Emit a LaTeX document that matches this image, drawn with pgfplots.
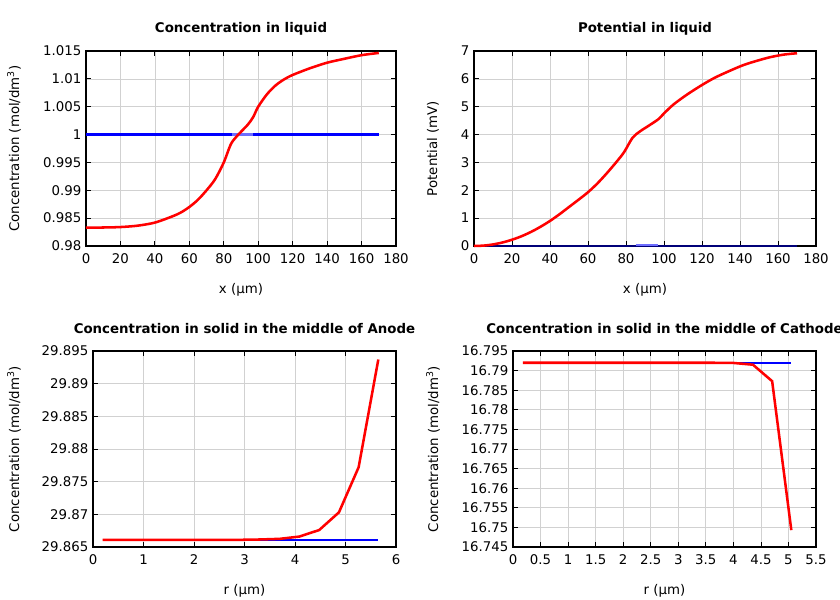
\documentclass[border=0pt]{standalone}
\usepackage{pgfplots}
\pgfplotsset{compat=1.18}
\usepackage{fontspec}
\setmainfont{DejaVu Sans}
\definecolor{navy}{RGB}{0,0,120}
\definecolor{sepblue}{RGB}{110,110,255}
\pgfplotsset{
  myax/.style={
    scale only axis,
    axis line style={line width=0.9pt},
    grid=major,
    grid style={color=black!18, line width=0.5pt},
    tick align=inside,
    major tick length=4pt,
    tick style={black, line width=0.6pt},
    /pgf/number format/assume math mode=true,
    ticklabel style={font=\fontsize{10}{12}\selectfont},
    xticklabel style={yshift=-2pt},
    label style={font=\fontsize{10}{12}\selectfont},
    every axis title shift=0pt,
    title style={font=\bfseries\fontsize{10}{12}\selectfont, at={(rel axis cs:0.5,1)}, anchor=center, yshift=16.5pt},
    every axis x label/.style={at={(rel axis cs:0.5,0)}, anchor=center, yshift=-33pt},
  },
  red line/.style={color=red, line width=1.9pt},
  blue line/.style={color=blue, line width=1.7pt},
}
\begin{document}
\begin{tikzpicture}
% ---------- Concentration in liquid ----------
\begin{axis}[myax,
  at={(64.5pt,265.5pt)}, anchor=south west,
  width=232.5pt, height=146.25pt,
  xmin=0, xmax=180, ymin=0.98, ymax=1.015,
  xtick={0,20,...,180},
  ytick={0.98,0.985,0.99,0.995,1,1.005,1.01,1.015},
  yticklabels={0.98,0.985,0.99,0.995,1,1.005,1.01,1.015},
  title={Concentration in liquid},
  xlabel={x (µm)},
  ylabel={Concentration (mol/dm\textsuperscript{3})},
  every axis y label/.style={at={(rel axis cs:0,0.5)}, rotate=90, anchor=center, yshift=54pt},
]
\addplot[blue line] coordinates {(0,1.0) (170,1.0)};
\addplot[color=sepblue, line width=1.7pt] coordinates {(85,1.0) (97,1.0)};
\addplot[red line, smooth] coordinates {
(0,0.98330) (10,0.98332) (20,0.98340) (30,0.98365) (40,0.98420) (50,0.98530)
(55,0.98600) (60,0.98700) (65,0.98830) (70,0.99000) (75,0.99200) (80,0.99500)
(84,0.99820) (87,0.99950) (90,1.00050) (94,1.00180) (97,1.00310) (100,1.00500)
(105,1.00720) (110,1.00880) (115,1.00990) (120,1.01070) (130,1.01190)
(140,1.01290) (150,1.01360) (160,1.01425) (170,1.01465)};
\end{axis}
% ---------- Potential in liquid ----------
\begin{axis}[myax,
  at={(355.5pt,265.5pt)}, anchor=south west,
  width=256.5pt, height=146.25pt,
  xmin=0, xmax=180, ymin=0, ymax=7,
  xtick={0,20,...,180},
  ytick={0,1,...,7},
  clip=false,
  title={Potential in liquid},
  xlabel={x (µm)},
  ylabel={Potential (mV)},
  every axis y label/.style={at={(rel axis cs:0,0.5)}, rotate=90, anchor=center, yshift=30.75pt},
]
\addplot[color=navy, line width=2.2pt] coordinates {(0,0) (170,0)};
\addplot[color=sepblue, line width=1pt] coordinates {(85,0.03) (97,0.03)};
\addplot[red line, smooth] coordinates {
(0,0.0) (5,0.014) (10,0.056) (15,0.126) (20,0.225) (25,0.35) (30,0.505) (35,0.69)
(40,0.90) (45,1.14) (50,1.40) (55,1.66) (60,1.93) (65,2.25) (70,2.62) (75,3.02)
(79,3.37) (83.5,3.89) (87.5,4.12) (92,4.32) (97,4.55)
(100,4.76) (105,5.08) (112,5.43) (120,5.78) (127,6.05) (135,6.30) (142,6.50)
(149,6.65) (156,6.78) (163,6.87) (170,6.92)};
\end{axis}
% ---------- Anode ----------
\begin{axis}[myax,
  at={(69.75pt,39.75pt)}, anchor=south west,
  width=227.25pt, height=147pt,
  xmin=0, xmax=6, ymin=29.865, ymax=29.895,
  xtick={0,1,...,6},
  ytick={29.865,29.87,29.875,29.88,29.885,29.89,29.895},
  yticklabels={29.865,29.87,29.875,29.88,29.885,29.89,29.895},
  title={Concentration in solid in the middle of Anode},
  xlabel={r (µm)},
  ylabel={Concentration (mol/dm\textsuperscript{3})},
  every axis y label/.style={at={(rel axis cs:0,0.5)}, rotate=90, anchor=center, yshift=59.25pt},
]
\addplot[blue line] coordinates {(0.19,29.8661) (5.65,29.8661)};
\addplot[red line] coordinates {
(0.19,29.8661) (0.58,29.8661) (0.97,29.8661) (1.36,29.8661) (1.75,29.8661)
(2.14,29.8661) (2.53,29.8661) (2.92,29.8661) (3.31,29.86615) (3.70,29.86625)
(4.09,29.8666) (4.48,29.8676) (4.87,29.8703) (5.26,29.8772) (5.65,29.8937)};
\end{axis}
% ---------- Cathode ----------
\begin{axis}[myax,
  at={(384.75pt,39.75pt)}, anchor=south west,
  width=227.25pt, height=147pt,
  xmin=0, xmax=5.5, ymin=16.745, ymax=16.795,
  xtick={0,0.5,...,5.5},
  ytick={16.745,16.75,16.755,16.76,16.765,16.77,16.775,16.78,16.785,16.79,16.795},
  yticklabels={16.745,16.75,16.755,16.76,16.765,16.77,16.775,16.78,16.785,16.79,16.795},
  title={Concentration in solid in the middle of Cathode},
  xlabel={r (µm)},
  ylabel={Concentration (mol/dm\textsuperscript{3})},
  every axis y label/.style={at={(rel axis cs:0,0.5)}, rotate=90, anchor=center, yshift=60pt},
]
\addplot[blue line] coordinates {(0.18,16.7920) (5.05,16.7920)};
\addplot[red line] coordinates {
(0.18,16.7920) (0.528,16.7920) (0.876,16.7920) (1.224,16.7920) (1.572,16.7920)
(1.92,16.7920) (2.268,16.7920) (2.616,16.7920) (2.964,16.7920) (3.312,16.7920)
(3.66,16.7920) (4.008,16.79195) (4.356,16.7915) (4.704,16.7873) (5.052,16.7493)};
\end{axis}
\pgfresetboundingbox
\useasboundingbox (0,0) rectangle (630pt,450pt);
\end{tikzpicture}
\end{document}
